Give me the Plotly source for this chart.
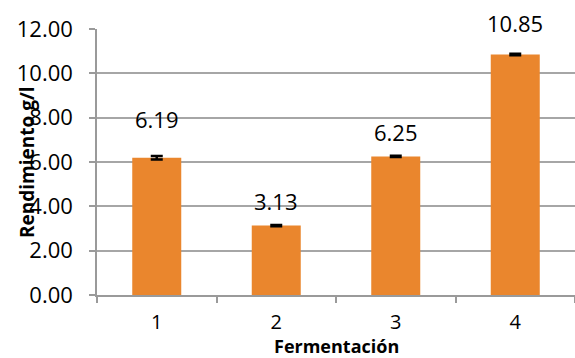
import plotly.graph_objects as go

categories = ["1", "2", "3", "4"]
values = [6.19, 3.13, 6.25, 10.85]
errors = [0.08, 0.03, 0.03, 0.03]
label_texts = ["6.19", "3.13", "6.25", "10.85"]
y_ticks = [0, 2, 4, 6, 8, 10, 12]

label_shift = [39, 25, 24, 31]  # style: px from bar top to label centre

FONT = "Open Sans"

fig = go.Figure()
fig.add_trace(go.Bar(
    x=categories, y=values,
    width=0.41,
    marker=dict(color="#EA862D", line=dict(width=0)),
    error_y=dict(type="data", array=errors, visible=True, color="#000000",
                 thickness=2.5, width=6),
    hoverinfo="skip",
))

for i, (v, t, s) in enumerate(zip(values, label_texts, label_shift)):
    fig.add_annotation(x=i, y=v, text=t, showarrow=False, yanchor="middle",
                       yshift=s, font=dict(family=FONT, size=22, color="#000000"))

fig.add_annotation(xref="paper", yref="paper", x=0, y=0.5, xshift=-70,
                   text="<b>Rendimiento g/l</b>", textangle=-90, showarrow=False,
                   xanchor="center", yanchor="middle",
                   font=dict(family=FONT, size=19, color="#000000"))
fig.add_annotation(xref="paper", yref="paper", x=0.5, y=0, yshift=-51,
                   text="<b>Fermentación</b>", showarrow=False,
                   xanchor="center", yanchor="middle",
                   font=dict(family=FONT, size=18, color="#000000"))

fig.update_layout(
    width=575, height=358, autosize=False,
    margin=dict(l=97, r=0, t=29, b=63),
    paper_bgcolor="white", plot_bgcolor="white",
    showlegend=False,
    font=dict(family=FONT, color="#000000"),
)
fig.update_xaxes(
    type="category", automargin=False, range=[-0.5, len(categories) - 0.5],
    showline=True, linecolor="#9A9A9A", linewidth=1.5,
    ticks="outside", tickson="boundaries", ticklen=6, tickcolor="#9A9A9A", tickwidth=1.5,
    ticklabelstandoff=8,
    tickfont=dict(family=FONT, size=20, color="#000000"),
    showgrid=False,
)
fig.update_yaxes(
    range=[0, 12], automargin=False,
    tickvals=y_ticks, tickformat=".2f",
    showline=True, linecolor="#9A9A9A", linewidth=1.5,
    ticks="outside", ticklen=6, tickcolor="#9A9A9A", tickwidth=1.5,
    ticklabelstandoff=12,
    showgrid=True, gridcolor="#A6A6A6", gridwidth=1.5,
    tickfont=dict(family=FONT, size=22, color="#000000"),
    zeroline=False,
)

fig.write_html(
    "out.html",
    config={"displayModeBar": False},
    post_script="document.body.style.margin='0';"
                "document.documentElement.style.overflow='hidden';"
                "document.body.style.overflow='hidden';",
)
